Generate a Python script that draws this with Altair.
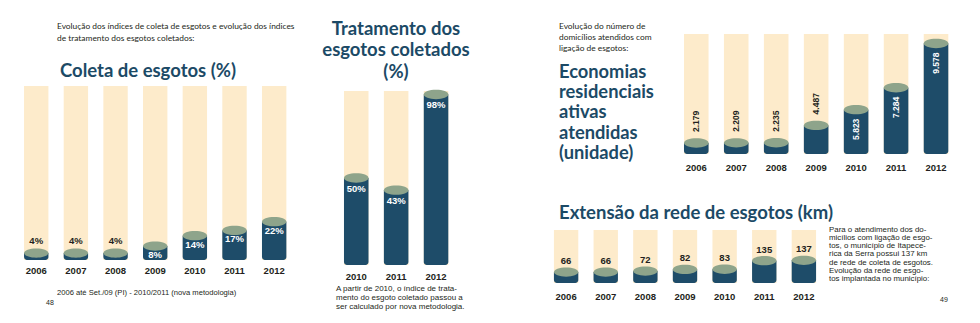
import altair as alt
import pandas as pd

# ---------------- data ----------------
ANOS = ["2006", "2007", "2008", "2009", "2010", "2011", "2012"]
COLETA = [4, 4, 4, 8, 14, 17, 22]
ANOS_TRAT = ["2010", "2011", "2012"]
TRATAMENTO = [50, 43, 98]
ECONOMIAS = [2179, 2209, 2235, 4487, 5823, 7284, 9578]
EXTENSAO = [66, 66, 72, 82, 83, 135, 137]

# ---------------- texts ----------------
INTRO_ESQ = ["Evolução dos índices de coleta de esgotos e evolução dos índices",
             "de tratamento dos esgotos coletados:"]
TIT_COLETA = "Coleta de esgotos (%)"
TIT_TRAT = ["Tratamento dos", "esgotos coletados", "(%)"]
NOTA_COLETA = "2006 até Set./09 (PI) - 2010/2011 (nova metodologia)"
NOTA_TRAT = ["A partir de 2010, o índice de trata-",
             "mento do esgoto coletado passou a",
             "ser calculado por nova metodologia."]
INTRO_DIR = ["Evolução do número de", "domicílios atendidos com", "ligação de esgotos:"]
TIT_ECON = ["Economias", "residenciais", "ativas", "atendidas", "(unidade)"]
TIT_EXT = "Extensão da rede de esgotos (km)"
TEXTO_EXT = ["\u00a0Para o atendimento dos do-",
             "micílios com ligação de esgo-",
             "tos, o município de Itapece-",
             "rica da Serra possui 137 km",
             "de rede de coleta de esgotos.",
             "\u00a0Evolução da rede de esgo-",
             "tos implantada no município:"]

# ---------------- style ----------------
PEACH = "#fdebcb"
NAVY = "#1e4c69"
SAGE = "#8ea48b"
TITLE = "#1c4a66"
INK = "#231f20"
ELLIPSE = ("M -1 0 C -1 -0.21 -0.552 -0.38 0 -0.38 C 0.552 -0.38 1 -0.21 1 0 "
           "C 1 0.21 0.552 0.38 0 0.38 C -0.552 0.38 -1 0.21 -1 0 Z")
LBL_FONT = "Liberation Sans"
TIT_FONT = "Lato"


def panel(anos, vals, xrange, ydom, yrange, label_expr, labels_above, labels_inside,
          year_dy, ytype="linear", exponent=None, angle=None, lbl_size=9.5):
    df = pd.DataFrame({"ano": anos, "v": vals})
    base, top = ydom
    xs = alt.Scale(type="band", domain=anos, range=xrange,
                   paddingInner=0.385, paddingOuter=0.1925)
    kw = dict(type=ytype, domain=ydom, range=yrange, nice=False, zero=False)
    if exponent is not None:
        kw["exponent"] = exponent
    ys = alt.Scale(**kw)
    X = alt.X("ano:N", scale=xs, axis=None)
    Yv = alt.Y("v:Q", scale=ys, axis=None)
    step = (xrange[1] - xrange[0]) / len(anos)
    bw = step * 0.615
    out = []
    out.append(alt.Chart(df).mark_bar(color=PEACH).encode(
        x=X, y=alt.YDatum(top, type="quantitative", scale=ys, axis=None),
        y2=alt.Y2Datum(base)))
    out.append(alt.Chart(df).mark_bar(color=NAVY, cornerRadiusBottomLeft=3,
                                      cornerRadiusBottomRight=3).encode(
        x=X, y=Yv, y2=alt.Y2Datum(base)))
    out.append(alt.Chart(df).mark_point(shape=ELLIPSE, size=bw * bw, filled=True,
                                        opacity=1, color=SAGE, strokeWidth=0).encode(
        x=X, y=Yv))
    for filt, kwargs in ((labels_above, dict(color=INK)), (labels_inside, dict(color="white"))):
        if filt is None:
            continue
        flt, mk = filt
        mk = dict(mk)
        mk.update(kwargs)
        if angle is not None:
            mk["angle"] = angle
        out.append(alt.Chart(df).transform_filter(flt).transform_calculate(
            lbl=label_expr).mark_text(font=LBL_FONT, fontWeight="bold",
                                      fontSize=lbl_size, **mk).encode(
            x=X, y=Yv, text="lbl:N"))
    out.append(alt.Chart(df).mark_text(font=LBL_FONT, fontWeight="bold", fontSize=9.5,
                                       color=INK, baseline="middle", dy=year_dy).encode(
        x=X, y=alt.YDatum(base, type="quantitative", scale=ys, axis=None), text="ano:N"))
    return out


layers = []
# Coleta de esgotos (%)
layers += panel(ANOS, COLETA, [16.4, 294.0], [0, 100], [260, 86],
                "datum.v + '%'",
                ("datum.v < 5", dict(dy=-12, baseline="middle")),
                ("datum.v >= 5", dict(dy=9, baseline="middle")),
                year_dy=11)
# Tratamento dos esgotos coletados (%)
layers += panel(ANOS_TRAT, TRATAMENTO, [336.3, 456.0], [0, 100], [265, 91],
                "datum.v + '%'",
                None,
                ("datum.v >= 0", dict(dy=11, baseline="middle")),
                year_dy=12)
# Economias residenciais ativas atendidas
layers += panel(ANOS, ECONOMIAS, [676.3, 956.0], [-2200, 10000], [154, 34],
                "replace(format(datum.v, ','), ',', '.')",
                ("datum.v < 5000", dict(align="left", baseline="middle", dx=11)),
                ("datum.v >= 5000", dict(align="right", baseline="middle", dx=-9)),
                year_dy=14, ytype="pow", exponent=2, angle=270, lbl_size=8.5)
# Extensão da rede de esgotos (km)
layers += panel(ANOS, EXTENSAO, [546.3, 823.7], [0, 320], [283, 230],
                "'' + datum.v",
                ("datum.v >= 0", dict(dy=-11, baseline="middle")),
                None,
                year_dy=14)


def note(text, x, y, size, color=INK, font=LBL_FONT, weight="normal", align="left",
         baseline="top", lh=None):
    mk = dict(text=text, font=font, fontSize=size, color=color, fontWeight=weight,
              align=align, baseline=baseline)
    if lh is not None:
        mk["lineHeight"] = lh
    return alt.Chart(pd.DataFrame({"k": [0]})).mark_text(**mk).encode(
        x=alt.value(x), y=alt.value(y))


layers += [
    note(INTRO_ESQ, 57, 22.3, 8.4, font=TIT_FONT, lh=11.3),
    note(TIT_COLETA, 60, 70.5, 18.5, color=TITLE, font=TIT_FONT, weight="bold",
         baseline="middle"),
    note(TIT_TRAT, 396, 19.5, 18.5, color=TITLE, font=TIT_FONT, weight="bold",
         align="center", lh=21.5),
    note(NOTA_COLETA, 57, 293, 7.6, baseline="middle"),
    note("48", 46, 303, 7, baseline="middle"),
    note(NOTA_TRAT, 336, 285.3, 8, lh=9),
    note(INTRO_DIR, 559, 22.3, 8.4, font=TIT_FONT, lh=10.7),
    note(TIT_ECON, 559, 64, 18.3, color=TITLE, font=TIT_FONT, weight="bold", lh=20.2),
    note(TIT_EXT, 559, 213, 18.5, color=TITLE, font=TIT_FONT, weight="bold",
         baseline="middle"),
    note(TEXTO_EXT, 829, 225.5, 7.9, lh=8.3),
    note("49", 940, 300, 7, baseline="middle"),
]

chart = alt.layer(*layers).resolve_scale(x="independent", y="independent").properties(
    width=980, height=323, padding=0,
    autosize=alt.AutoSizeParams(type="none"),
    background="white",
).configure_view(strokeWidth=0)

chart.save("out.html", embed_options={"renderer": "svg", "actions": False})
